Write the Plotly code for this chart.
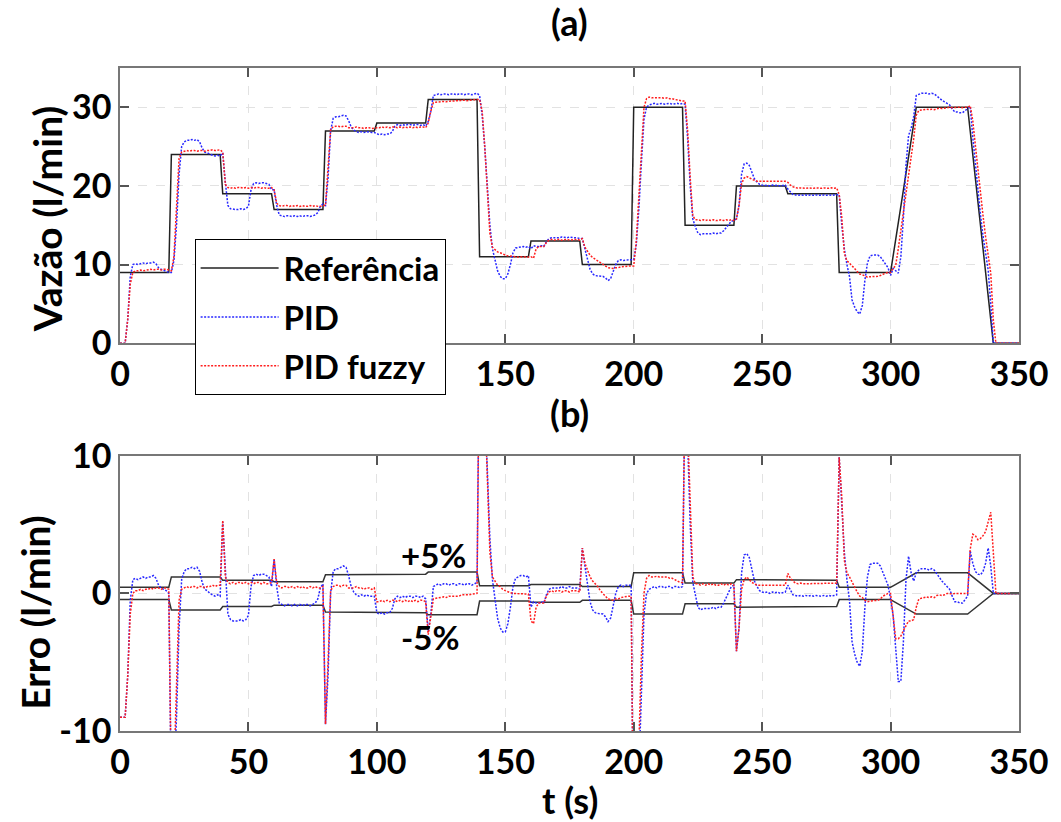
import numpy as np
import plotly.graph_objects as go

# time base (s), one sample per second
t = list(range(351))

# reference flow (l/min)
ref = ([9] * 20 + [24] * 20 + [19] * 20 + [17] * 20 + [27] * 20 + [28] * 20 + [31] * 20
       + [11] * 20 + [13] * 20 + [10] * 20 + [30] * 20 + [15] * 20 + [20] * 20 + [19] * 20
       + [9] * 20
       + [9, 11.1, 13.2, 15.3, 17.4, 19.5, 21.6, 23.7, 25.8, 27.9, 30]
       + [30] * 20
       + [27, 24, 21, 18, 15, 12, 9, 6, 3, 0]
       + [0] * 10)

# measured flow with the PID controller (l/min)
pid = [
    0, 0, 0, 3.0, 8.5, 10.0, 10.1, 10.0, 10.1, 10.2,
    10.1, 10.2, 10.2, 10.3, 10.1, 9.6, 9.4, 9.3, 9.2, 9.0,
    9.0, 10.5, 15.0, 21.5, 25.0, 25.6, 25.8, 25.8, 25.9, 25.8,
    25.9, 25.6, 24.8, 24.3, 24.2, 24.0, 23.9, 23.8, 23.9, 23.8,
    24.2, 20.5, 17.5, 17.1, 17.0, 17.0, 17.0, 17.1, 17.0, 17.1,
    17.4, 19.5, 20.3, 20.4, 20.3, 20.4, 20.4, 20.3, 20.2, 19.5,
    19.5, 17.5, 16.3, 16.2, 16.1, 16.2, 16.2, 16.1, 16.2, 16.1,
    16.2, 16.1, 16.2, 16.2, 16.1, 16.2, 16.3, 16.6, 17.4, 17.7,
    17.5, 21.0, 27.0, 28.6, 28.8, 28.8, 28.9, 29.0, 28.9, 28.3,
    27.5, 27.1, 26.9, 26.8, 26.9, 26.8, 26.9, 26.8, 26.8, 26.8,
    26.6, 26.5, 26.6, 26.5, 26.6, 26.6, 26.9, 27.6, 27.8, 27.7,
    27.8, 27.7, 27.8, 27.8, 27.7, 27.8, 27.8, 27.7, 27.8, 27.6,
    28.2, 29.5, 31.5, 31.6, 31.7, 31.6, 31.7, 31.7, 31.6, 31.7,
    31.7, 31.6, 31.7, 31.7, 31.6, 31.7, 31.7, 31.6, 31.7, 31.8,
    31.5, 29.0, 25.0, 20.0, 15.0, 12.0, 10.5, 9.2, 8.5, 8.2,
    8.2, 8.8, 10.0, 11.5, 12.1, 12.2, 12.3, 12.3, 12.2, 12.3,
    12.0, 12.4, 12.3, 12.3, 12.4, 12.3, 12.9, 13.3, 13.4, 13.4,
    13.4, 13.4, 13.5, 13.4, 13.4, 13.5, 13.4, 13.4, 13.4, 13.3,
    13.3, 12.0, 10.6, 9.4, 8.8, 8.6, 8.55, 8.5, 8.5, 8.3,
    7.95, 8.2, 9.0, 10.0, 10.5, 10.6, 10.5, 10.6, 10.6, 10.6,
    10.6, 12.5, 17.0, 23.0, 28.5, 30.0, 30.3, 30.4, 30.5, 30.4,
    30.5, 30.5, 30.4, 30.5, 30.5, 30.4, 30.5, 30.5, 30.4, 30.5,
    30.4, 26.0, 20.0, 15.8, 14.8, 14.0, 13.8, 13.9, 13.9, 13.9,
    13.9, 14.0, 13.9, 14.0, 14.0, 14.3, 14.7, 15.2, 15.5, 15.6,
    15.8, 17.5, 21.5, 22.8, 22.9, 22.6, 21.8, 20.9, 20.5, 20.2,
    20.1, 20.05, 20.1, 20.0, 20.1, 20.05, 20.1, 20.0, 20.05, 20.1,
    19.6, 19.2, 18.9, 18.85, 18.8, 18.85, 18.8, 18.85, 18.8, 18.85,
    18.8, 18.85, 18.8, 18.8, 18.85, 18.8, 18.85, 18.8, 18.85, 18.9,
    18.9, 15.0, 12.0, 10.0, 8.5, 5.5, 4.6, 4.0, 3.7, 4.8,
    8.0, 10.2, 11.1, 11.2, 11.2, 11.2, 11.0, 10.5, 10.0, 9.6,
    8.6, 9.5, 9.2, 8.9, 11.0, 16.0, 22.6, 26.4, 27.3, 28.8,
    31.5, 31.7, 31.8, 31.8, 31.8, 31.7, 31.8, 31.7, 31.4, 31.1,
    30.9, 30.7, 30.5, 30.3, 29.8, 29.4, 29.4, 29.3, 29.3, 29.6,
    29.8, 30.1, 26.2, 22.6, 19.4, 16.35, 13.6, 11.2, 9.3, 5.0,
    0, 0, 0, 0, 0, 0, 0, 0, 0, 0, 0,
]

# measured flow with the fuzzy PID controller (l/min)
fuzzy = [
    0, 0, 0, 3.0, 7.5, 9.0, 9.2, 9.2, 9.3, 9.2,
    9.3, 9.3, 9.4, 9.3, 9.4, 9.4, 9.3, 9.4, 9.4, 9.3,
    9.2, 11.0, 17.0, 23.5, 24.3, 24.4, 24.5, 24.4, 24.5, 24.5,
    24.4, 24.5, 24.5, 24.4, 24.5, 24.5, 24.6, 24.5, 24.6, 24.6,
    24.3, 20.2, 19.8, 19.7, 19.8, 19.7, 19.8, 19.8, 19.7, 19.8,
    19.7, 19.8, 19.7, 19.8, 19.8, 19.7, 19.8, 19.7, 19.7, 19.8,
    19.5, 17.8, 17.5, 17.4, 17.5, 17.5, 17.4, 17.5, 17.4, 17.5,
    17.4, 17.5, 17.4, 17.4, 17.5, 17.4, 17.5, 17.4, 17.4, 17.5,
    17.5, 22.0, 27.2, 27.5, 27.6, 27.6, 27.5, 27.6, 27.6, 27.4,
    27.4, 27.4, 27.5, 27.4, 27.4, 27.3, 27.4, 27.4, 27.3, 27.4,
    27.4, 27.4, 27.5, 27.4, 27.5, 27.4, 27.5, 27.5, 27.4, 27.5,
    27.4, 27.5, 27.4, 27.5, 27.4, 27.5, 27.4, 27.5, 27.5, 27.4,
    28.0, 29.5, 30.6, 30.65, 30.7, 30.7, 30.75, 30.7, 30.8, 30.8,
    30.8, 30.85, 30.8, 30.9, 30.9, 30.85, 30.9, 30.95, 31.0, 31.0,
    31.0, 29.5, 25.0, 19.0, 14.0, 12.2, 11.9, 11.6, 11.5, 11.3,
    11.2, 11.1, 11.05, 11.0, 11.0, 10.95, 11.0, 10.95, 11.0, 10.95,
    11.0, 10.8, 12.0, 12.3, 12.3, 12.3, 12.8, 13.1, 13.2, 13.1,
    13.2, 13.2, 13.1, 13.2, 13.2, 13.1, 13.2, 13.2, 13.2, 13.1,
    13.3, 12.2, 11.7, 11.2, 10.9, 10.7, 10.5, 10.2, 10.0, 9.8,
    9.6, 9.55, 9.5, 9.6, 9.6, 9.7, 9.75, 9.75, 9.8, 9.8,
    9.8, 13.0, 19.0, 25.5, 30.0, 31.1, 31.3, 31.2, 31.2, 31.25,
    31.2, 31.2, 31.15, 31.2, 31.1, 31.1, 31.0, 30.9, 30.8, 30.8,
    30.8, 27.0, 21.0, 16.2, 15.7, 15.7, 15.6, 15.7, 15.6, 15.7,
    15.6, 15.7, 15.6, 15.6, 15.7, 15.6, 15.7, 15.6, 15.7, 15.6,
    15.8, 17.5, 20.3, 21.0, 21.2, 21.0, 20.8, 20.7, 20.6, 20.6,
    20.6, 20.55, 20.6, 20.6, 20.55, 20.6, 20.6, 20.55, 20.6, 20.6,
    20.45, 20.1, 19.9, 19.75, 19.7, 19.75, 19.7, 19.7, 19.75, 19.7,
    19.7, 19.75, 19.7, 19.7, 19.75, 19.7, 19.7, 19.75, 19.7, 19.75,
    18.9, 16.0, 11.4, 10.5, 10.2, 9.8, 9.5, 9.1, 8.8, 8.7,
    8.5, 8.4, 8.45, 8.45, 8.5, 8.5, 8.6, 8.8, 8.9, 9.0,
    9.0, 9.5, 9.9, 12.0, 14.3, 16.8, 19.2, 21.7, 23.8, 26.0,
    29.0, 29.6, 29.65, 29.7, 29.75, 29.7, 29.75, 29.7, 29.85, 29.9,
    29.85, 29.9, 30.0, 30.0, 29.95, 30.0, 30.0, 30.0, 29.95, 30.0,
    30.0, 30.2, 28.3, 25.2, 21.9, 19.0, 16.2, 13.5, 11.2, 8.9,
    3.0, 0, 0, 0, 0, 0, 0, 0, 0, 0, 0,
]

x_ticks = [0, 50, 100, 150, 200, 250, 300, 350]
x_labels_top = ["0", "", "", "150", "200", "250", "300", "350"]  # 50 and 100 sit under the legend
x_labels = ["0", "50", "100", "150", "200", "250", "300", "350"]
flow_ticks = [0, 10, 20, 30]
err_ticks = [-10, 0, 10]
err_labels = ["-10", "0", "10"]

ref_a = np.array(ref, dtype=float)
err_pid = np.array(pid) - ref_a
err_fuzzy = np.array(fuzzy) - ref_a
band = 0.05 * ref_a

FONT = "Lato"
BLUE = "rgb(40,40,255)"
RED = "rgb(255,30,30)"
DOTS = "2px,1.5px"

fig = go.Figure()

# (a) flow
fig.add_trace(go.Scatter(x=t, y=ref, mode="lines", name="Referência",
                         line=dict(color="#222222", width=1.5),
                         legendgroup="r", legendrank=1, xaxis="x", yaxis="y"))
fig.add_trace(go.Scatter(x=t, y=pid, mode="lines", name="PID",
                         line=dict(color=BLUE, width=1.5, dash=DOTS),
                         legendgroup="p", legendrank=2, xaxis="x", yaxis="y"))
fig.add_trace(go.Scatter(x=t, y=fuzzy, mode="lines", name="PID fuzzy",
                         line=dict(color=RED, width=1.5, dash=DOTS),
                         legendgroup="f", legendrank=3, xaxis="x", yaxis="y"))

# (b) error with the ±5% band
fig.add_trace(go.Scatter(x=t, y=band, mode="lines", showlegend=False,
                         line=dict(color="#333333", width=1.5), xaxis="x2", yaxis="y2"))
fig.add_trace(go.Scatter(x=t, y=-band, mode="lines", showlegend=False,
                         line=dict(color="#333333", width=1.5), xaxis="x2", yaxis="y2"))
fig.add_trace(go.Scatter(x=t, y=err_pid, mode="lines", showlegend=False,
                         line=dict(color=BLUE, width=1.5, dash=DOTS), xaxis="x2", yaxis="y2"))
fig.add_trace(go.Scatter(x=t, y=err_fuzzy, mode="lines", showlegend=False,
                         line=dict(color=RED, width=1.5, dash=DOTS), xaxis="x2", yaxis="y2"))

axis_common = dict(
    showgrid=True, gridcolor="#e2e2e2", griddash="dash", gridwidth=1,
    ticks="inside", ticklen=9, tickwidth=1.5, tickcolor="#555555",
    showline=True, linecolor="#777777", linewidth=1.5, mirror="ticks",
    zeroline=False, tickfont=dict(family=FONT, size=34, color="black", weight="bold"),
)

fig.update_layout(
    width=1061, height=822,
    paper_bgcolor="white", plot_bgcolor="white",
    margin=dict(l=120, r=38, t=68, b=91),
    font=dict(family=FONT, size=34, color="black", weight="bold"),
    xaxis=dict(domain=[0, 1], range=[0, 350], tickvals=x_ticks, ticktext=x_labels_top,
               anchor="y", **axis_common),
    yaxis=dict(domain=[0.585, 1], range=[0, 35], tickvals=flow_ticks, anchor="x", **axis_common),
    xaxis2=dict(domain=[0, 1], range=[0, 350], tickvals=x_ticks, ticktext=x_labels,
                anchor="y2", **axis_common),
    yaxis2=dict(domain=[0, 0.415], range=[-10, 10], tickvals=err_ticks, ticktext=err_labels,
                anchor="x2", **axis_common),
    legend=dict(x=0.083, y=0.742, xanchor="left", yanchor="top",
                bgcolor="white", bordercolor="black", borderwidth=1,
                font=dict(family=FONT, size=33, color="black", weight="bold"),
                traceorder="grouped", tracegroupgap=3, itemwidth=78),
    showlegend=True,
)

ann = dict(showarrow=False)
title_font = dict(family=FONT, size=36, color="black", weight="bold")
ytitle_font = dict(family=FONT, size=39, color="black", weight="bold")
fig.add_annotation(text="(a)", xref="paper", yref="paper", x=0.5, y=1.069,
                   xanchor="center", yanchor="middle", font=title_font, **ann)
fig.add_annotation(text="(b)", xref="paper", yref="paper", x=0.5, y=0.480,
                   xanchor="center", yanchor="middle", font=title_font, **ann)
fig.add_annotation(text="Vazão (l/min)", xref="paper", yref="paper", x=-0.081, y=0.772,
                   textangle=-90, xanchor="center", yanchor="middle", font=ytitle_font, **ann)
fig.add_annotation(text="Erro (l/min)", xref="paper", yref="paper", x=-0.094, y=0.179,
                   textangle=-90, xanchor="center", yanchor="middle", font=ytitle_font, **ann)
fig.add_annotation(text="t (s)", xref="paper", yref="paper", x=0.5, y=-0.104,
                   xanchor="center", yanchor="middle", font=title_font, **ann)
pct_font = dict(family=FONT, size=33, color="black", weight="bold")
fig.add_annotation(text="+5%", xref="x2", yref="y2", x=122, y=2.8,
                   xanchor="center", yanchor="middle", font=pct_font, **ann)
fig.add_annotation(text="-5%", xref="x2", yref="y2", x=121, y=-3.2,
                   xanchor="center", yanchor="middle", font=pct_font, **ann)

fig.write_html("out.html")
